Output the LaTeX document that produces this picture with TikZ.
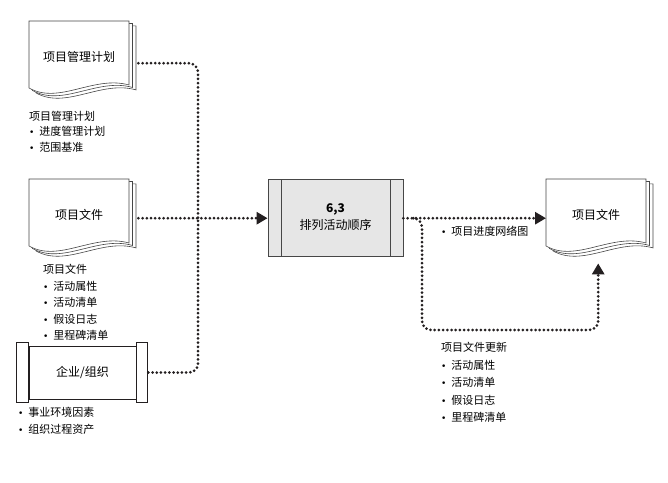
\documentclass[tikz,border=0pt]{standalone}
\usepackage{fontspec}
\setmainfont{Noto Sans CJK SC}
\newfontfamily\symfont{DejaVu Sans}
\usetikzlibrary{arrows.meta, positioning, calc}
\pgfdeclarelayer{background}
\pgfsetlayers{background,main}
\definecolor{myink}{RGB}{35,31,32}
\definecolor{myframe}{RGB}{70,70,70}
\definecolor{myfill}{RGB}{230,230,230}
\newcommand{\bul}{{\symfont\fontsize{9}{9}\selectfont •}\hspace{0.45em}}
\tikzset{
  docpage/.style={draw=myframe, fill=white, line width=0.6pt},
  docnode/.style={minimum width=100pt, minimum height=72pt, inner sep=0pt,
    font=\fontsize{12}{14}\selectfont, anchor=north west},
  orgbox/.style={draw=myink, fill=white, line width=0.7pt,
    minimum width=107pt, minimum height=53pt, font=\fontsize{12}{14}\selectfont},
  sidebar/.style={draw=myink, fill=white, line width=0.7pt},
  procbox/.style={draw=myframe, fill=myfill, line width=0.8pt,
    minimum width=135pt, minimum height=77pt, align=center,
    font=\fontsize{12}{17}\selectfont,
    path picture={\foreach \side/\dx in {west/13pt, east/-13pt}
      \draw[myframe, line width=0.8pt]
        ([xshift=\dx]path picture bounding box.north \side) --
        ([xshift=\dx]path picture bounding box.south \side);}},
  notes/.style={anchor=north west, inner sep=0pt, align=left,
    font=\fontsize{11}{16.5}\selectfont},
  dotline/.style={draw=myink, line width=3pt, dash pattern=on 0pt off 4.2pt,
    line cap=round, rounded corners=9pt},
  dotarrow/.style={dotline, -{Triangle[length=11pt,width=12pt]}}
}
\begin{document}
\begin{tikzpicture}[x=1pt, y=-1pt]
  \useasboundingbox (0,0) rectangle (668,482);
  % inputs
  \node[docnode] (plan) at (29,21) {项目管理计划};
  \node[docnode] (docs) at (29,179) {项目文件};
  \node[orgbox] (org) at (82.5,372.5) {企业/组织};
  % process and output
  \node[procbox] (seq) at (335.5,217.5) {\textbf{6,3}\\排列活动顺序};
  \node[docnode] (out) at (546,179) {项目文件};

  % page stacks behind the document nodes
  \begin{pgfonlayer}{background}
    \foreach \d in {plan,docs,out}
      \foreach \s in {7,3.5,0}{
        \coordinate (o) at ($(\d.north west)+(\s,.7*\s)$);
        \draw[docpage] (o) -- ($(o)+(100,0)$) -- ($(o)+(100,64)$)
          .. controls ($(o)+(65,54)$) and ($(o)+(30,84)$) .. ($(o)+(0,67)$) -- cycle;
      }
  \end{pgfonlayer}
  \foreach \c/\dx in {west/-12, east/11}
    \draw[sidebar] ($(org.north \c)+(0,-3)$) rectangle ($(org.south \c)+(\dx,3)$);

  % connectors
  \coordinate (planout) at ($(plan.east)+(9,6)$);
  \coordinate (docsout) at ($(docs.east)+(9,3)$);
  \coordinate (orgout) at ($(org.east)+(12,0)$);
  \coordinate (junc) at (198,218);
  \draw[dotline] (planout) -| (junc);
  \draw[dotline] (orgout) -| (junc);
  \draw[dotarrow] (docsout) -- (docsout -| seq.west);
  \draw[dotarrow] (seq.east |- docsout) -- (docsout -| out.west);
  % feedback to project documents
  \coordinate (fbstart) at ($(seq.east |- docsout)+(10,0)$);
  \coordinate (fbturn) at (422,330);
  \coordinate (fbend) at ($(out.south)+(2,12)$);
  \draw[dotarrow] (fbstart) -| (fbturn) -| (fbend);

  % notes
  \node[notes, font=\fontsize{11}{15.5}\selectfont] (plannotes) at (29,111)
    {项目管理计划\\\bul 进度管理计划\\\bul 范围基准};
  \node[notes] (docsnotes) at (43,264)
    {项目文件\\\bul 活动属性\\\bul 活动清单\\\bul 假设日志\\\bul 里程碑清单};
  \node[notes, font=\fontsize{11}{17}\selectfont] (orgnotes) at (18,407)
    {\bul 事业环境因素\\\bul 组织过程资产};
  \node[notes] (netnotes) at (441,226) {\bul 项目进度网络图};
  \node[notes, font=\fontsize{11}{17.5}\selectfont] (updnotes) at (441,342)
    {项目文件更新\\\bul 活动属性\\\bul 活动清单\\\bul 假设日志\\\bul 里程碑清单};
\end{tikzpicture}
\end{document}
